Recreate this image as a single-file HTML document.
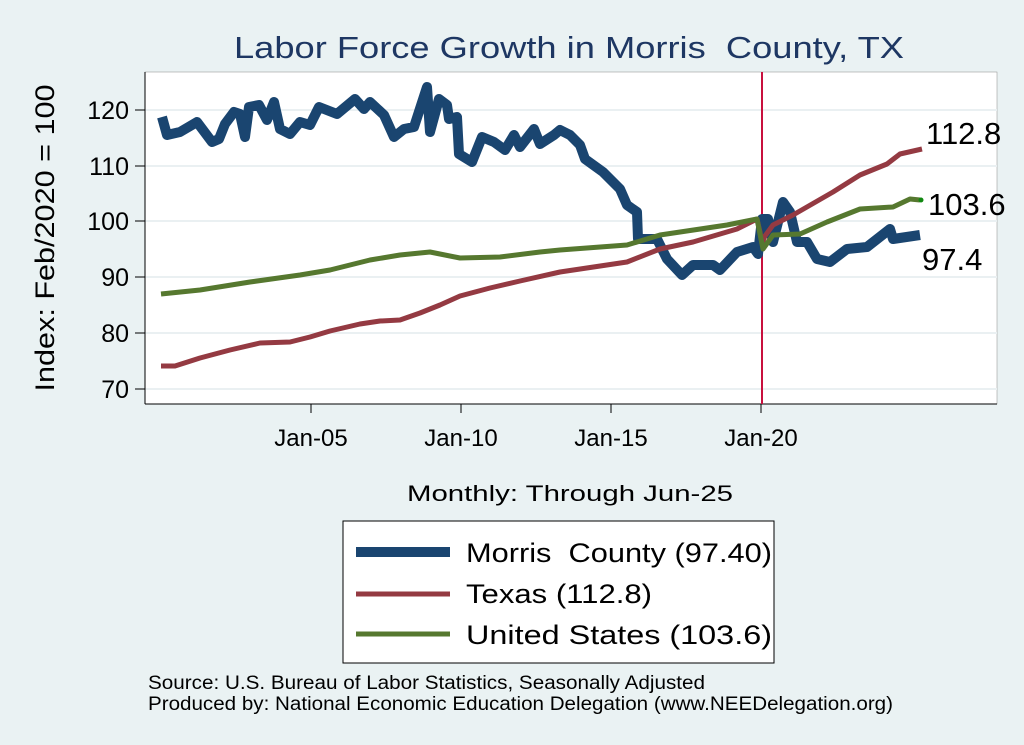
<!DOCTYPE html><html><head><style>body{margin:0;background:#eaf2f3}svg{display:block}text{font-family:"Liberation Sans",sans-serif}</style></head><body>
<svg width="1024" height="745" viewBox="0 0 1024 745">
<rect x="0" y="0" width="1024" height="745" fill="#eaf2f3"/>
<rect x="145" y="72" width="852" height="332" fill="#fff" stroke="#888" stroke-width="0.5"/>
<g stroke="#eaf0f2" stroke-width="2">
<line x1="145" x2="997" y1="110" y2="110"/><line x1="145" x2="997" y1="166" y2="166"/><line x1="145" x2="997" y1="221" y2="221"/><line x1="145" x2="997" y1="277" y2="277"/><line x1="145" x2="997" y1="333" y2="333"/><line x1="145" x2="997" y1="389" y2="389"/></g>
<g stroke="#000" stroke-width="1"><line x1="145" y1="72" x2="145" y2="404"/><line x1="145" y1="404" x2="997" y2="404"/>
<line x1="135" x2="145" y1="110" y2="110"/><line x1="135" x2="145" y1="166" y2="166"/><line x1="135" x2="145" y1="221" y2="221"/><line x1="135" x2="145" y1="277" y2="277"/><line x1="135" x2="145" y1="333" y2="333"/><line x1="135" x2="145" y1="389" y2="389"/>
<line x1="311" x2="311" y1="404" y2="413"/><line x1="461" x2="461" y1="404" y2="413"/><line x1="611" x2="611" y1="404" y2="413"/><line x1="761" x2="761" y1="404" y2="413"/></g>
<g font-size="25" text-anchor="end"><text x="129" y="119">120</text><text x="129" y="175">110</text><text x="129" y="230">100</text><text x="129" y="286">90</text><text x="129" y="342">80</text><text x="129" y="398">70</text></g>
<g font-size="24" text-anchor="middle"><text x="311" y="446">Jan-05</text><text x="461" y="446">Jan-10</text><text x="611" y="446">Jan-15</text><text x="761" y="446">Jan-20</text>
<text x="570" y="501" font-size="22" textLength="326" lengthAdjust="spacingAndGlyphs">Monthly: Through Jun-25</text>
<text x="569" y="58" font-size="31" fill="#1e3763" xml:space="preserve" textLength="670" lengthAdjust="spacingAndGlyphs">Labor Force Growth in Morris  County, TX</text>
<text transform="translate(54,238) rotate(-90)" font-size="27" textLength="307" lengthAdjust="spacingAndGlyphs">Index: Feb/2020 = 100</text></g>
<line x1="762" y1="72" x2="762" y2="404" stroke="#c8103e" stroke-width="2"/>
<polyline fill="none" stroke="#1a4570" stroke-width="10" stroke-linejoin="round" points="162,117 167,135 180,132 197,122 212,142 219,139 225,124 234,112 240,114 245,137 249,107 259,105 267,120 274,102 280,129 290,134 300,122 310,125 319,107 337,114 355,99 364,109 370,102 384,115 394,137 404,129 414,127 427,87 430,132 439,99 447,105 449,119 457,117 459,154 472,162 482,137 494,142 505,150 514,135 520,147 534,129 540,144 554,135 560,130 570,135 580,145 585,159 603,172 620,189 627,205 637,212 638,239 657,239 667,259 682,275 693,265 713,265 720,270 737,252 753,247 758,254 762,219 768,219 773,242 783,202 790,212 797,242 807,242 817,259 830,262 847,249 867,247 890,229 893,239 920,235"/>
<polyline fill="none" stroke="#943a42" stroke-width="5" stroke-linejoin="round" points="161,366 175,366 200,358 230,350 260,343 290,342 310,337 330,331 360,324 380,321 400,320 420,313 440,305 460,296 490,288 520,281 560,272 627,262 660,249 693,242 737,229 757,219 760,232 762,244 765,236 773,225 793,215 833,192 860,175 887,164 900,154 922,149"/>
<polyline fill="none" stroke="#56782f" stroke-width="5" stroke-linejoin="round" points="161,294 200,290 250,282 300,275 330,270 370,260 400,255 430,252 460,258 500,257 540,252 560,250 627,245 660,235 727,225 757,219 763,249 773,235 800,234 827,222 860,209 893,207 910,199 920,200"/>
<circle cx="921" cy="200" r="2.5" fill="#118811"/>
<g font-size="31"><text x="926" y="144">112.8</text><text x="928" y="215">103.6</text><text x="922" y="270">97.4</text></g>
<rect x="343" y="521" width="431" height="142" fill="#fff" stroke="#000" stroke-width="1"/>
<line x1="356" x2="450" y1="552" y2="552" stroke="#1a4570" stroke-width="10"/>
<line x1="356" x2="450" y1="594" y2="594" stroke="#943a42" stroke-width="5"/>
<line x1="356" x2="450" y1="634" y2="634" stroke="#56782f" stroke-width="5"/>
<g font-size="27"><text x="466" y="562" xml:space="preserve" textLength="306" lengthAdjust="spacingAndGlyphs">Morris  County (97.40)</text><text x="466" y="603" textLength="186" lengthAdjust="spacingAndGlyphs">Texas (112.8)</text><text x="466" y="644" textLength="306" lengthAdjust="spacingAndGlyphs">United States (103.6)</text></g>
<g font-size="19"><text x="148" y="689" textLength="557" lengthAdjust="spacingAndGlyphs">Source: U.S. Bureau of Labor Statistics, Seasonally Adjusted</text><text x="148" y="710" textLength="745" lengthAdjust="spacingAndGlyphs">Produced by: National Economic Education Delegation (www.NEEDelegation.org)</text></g>
</svg></body></html>
